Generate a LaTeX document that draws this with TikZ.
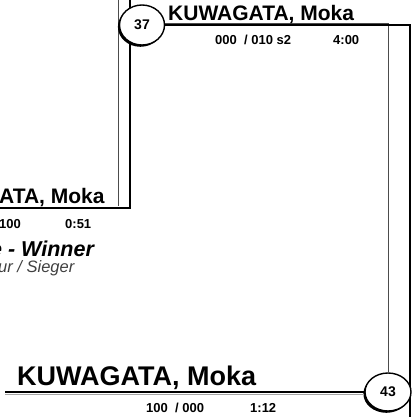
\documentclass[tikz,border=0pt]{standalone}
\usepackage{fontspec}
\setmainfont{Liberation Sans}
\usetikzlibrary{positioning, shapes.geometric, shadows, backgrounds}

\begin{document}
\begin{tikzpicture}[x=1pt, y=-1pt,
    player/.style={font=\fontsize{21}{21}\selectfont\bfseries, inner sep=0pt, anchor=base west},
    score/.style={font=\fontsize{13}{13}\selectfont\bfseries, inner sep=0pt, anchor=base west},
    seed/.style={ellipse, draw, line width=1.4pt, fill=white, inner sep=0pt,
        minimum width=45pt, minimum height=40pt,
        font=\fontsize{14}{14}\selectfont\bfseries,
        drop shadow={shadow xshift=-1.6pt, shadow yshift=-1.8pt, fill=black, opacity=1}},
    bar/.style={line width=2pt, black},
    rail/.style={line width=0.9pt, black!70}]

    \useasboundingbox (0,0) rectangle (414,417);
    \clip (0,0) rectangle (414,417);

    % Match circles
    \node[seed] (m37) at (142,25) {37};
    \node[seed, minimum width=46pt, minimum height=38pt] (m43) at (388,392) {43};

    % Corner points of the bracket
    \coordinate (inTop) at (130,-5);
    \coordinate (inCorner) at (130,208);
    \coordinate (inEnd) at (-5,208);
    \coordinate (railTop) at (118,-5);
    \coordinate (railEnd) at (118,206);
    \coordinate (outEdge) at (410,425);
    \coordinate (finalEnd) at (5,392);

    \begin{scope}[on background layer]
        % Left bar into 37
        \draw[rail] (railTop) -- (railEnd);
        \draw[bar] (inTop) -- (inCorner) -- (inEnd);

        % Bar from 37 to 43
        \draw[rail] ([yshift=2pt]m37.east) -| (m43.north);
        \draw[bar] (m37.east) -| (outEdge);
    \end{scope}

    % Final line
    \draw[black!35, line width=1pt] ([yshift=-2pt]m43.west) -- ([yshift=-2pt]finalEnd);
    \draw[bar] (m43.west) -- (finalEnd);

    % Names
    \node[player] (name37) at (168,21) {KUWAGATA, Moka};
    \node[player] (nameLeft) at (-1,203) {ATA, Moka};
    \node[player, font=\fontsize{27}{27}\selectfont\bfseries] (name43) at (17,385) {KUWAGATA, Moka};

    % Scores and times
    \node[score] (sc37) at (215,45) {000\ \ / 010 s2};
    \node[score] (tm37) at (333,45) {4:00};
    \node[score] (scLeft) at (-1,228) {100};
    \node[score] (tmLeft) at (65,228) {0:51};
    \node[score] (sc43) at (146,412) {100\ \ / 000};
    \node[score] (tm43) at (250,412) {1:12};

    % Winner caption
    \node[inner sep=0pt, text depth=0pt, anchor=base west, font=\fontsize{21.5}{21.5}\selectfont\bfseries\itshape] (winEn) at (-10,256) {e - Winner};
    \node[inner sep=0pt, text height=11pt, anchor=base west, text=black!75, font=\fontsize{16.5}{16.5}\selectfont\itshape] (winDe) at (-2,272) {ur / Sieger};
\end{tikzpicture}
\end{document}
